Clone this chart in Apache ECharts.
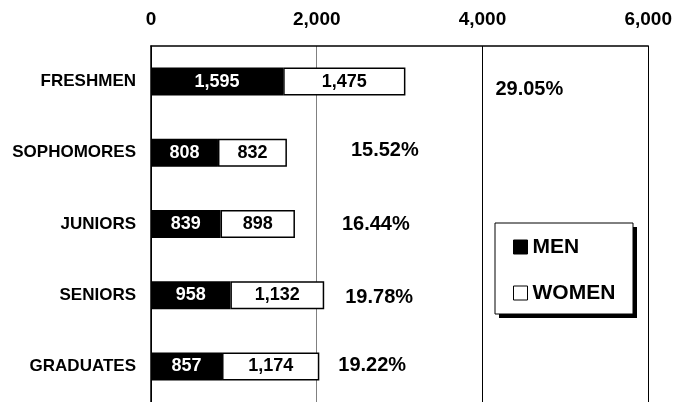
<!DOCTYPE html>
<html>
<head>
<meta charset="utf-8">
<script src="https://cdn.jsdelivr.net/npm/echarts@6/dist/echarts.min.js"></script>
<style>
html,body{margin:0;padding:0;background:#fff;}
#chart{width:675px;height:402px;}
</style>
</head>
<body>
<div id="chart"></div>
<script>
const categories = ['FRESHMEN', 'SOPHOMORES', 'JUNIORS', 'SENIORS', 'GRADUATES'];
const men = [1595, 808, 839, 958, 857];
const women = [1475, 832, 898, 1132, 1174];
const shareLabels = ['29.05%', '15.52%', '16.44%', '19.78%', '19.22%'];
const xTicks = [0, 2000, 4000, 6000];

// label placement tweaks (styling only)
const shareOffsets = [[90, 8], [64, -2], [47, 0], [21, 2], [19, -1]];

const FONT = '"Liberation Sans", Arial, sans-serif';
const chart = echarts.init(document.getElementById('chart'));

const fmt = v => v.toLocaleString('en-US');

chart.setOption({
  animation: false,
  backgroundColor: '#fff',
  grid: { left: 151, right: 23, top: 46, height: 357.5, containLabel: false },
  xAxis: {
    type: 'value',
    position: 'top',
    min: xTicks[0],
    max: xTicks[xTicks.length - 1],
    interval: xTicks[1] - xTicks[0],
    axisLine: { show: true, lineStyle: { color: '#000', width: 1.5 } },
    axisTick: { show: false },
    axisLabel: {
      margin: 17,
      formatter: v => fmt(v),
      fontFamily: FONT, fontWeight: 'bold', fontSize: 19, color: '#000'
    },
    splitLine: { show: true, lineStyle: { color: ['#000', '#808080', '#000', '#000'], width: 1 } }
  },
  yAxis: {
    type: 'category',
    inverse: true,
    data: categories,
    axisLine: { show: true, lineStyle: { color: '#000', width: 1.5 } },
    axisTick: { show: false },
    axisLabel: {
      margin: 15,
      fontFamily: FONT, fontWeight: 'bold', fontSize: 17, color: '#000'
    }
  },
  graphic: [
    { type: 'rect', z: 5, shape: { x: 499, y: 227, width: 138, height: 91 }, style: { fill: '#000' } },
    { type: 'rect', z: 6, shape: { x: 495, y: 223, width: 138, height: 91 }, style: { fill: '#fff', stroke: '#000', lineWidth: 1 } }
  ],
  legend: {
    left: 495, top: 223,
    z: 10,
    orient: 'vertical',
    padding: [12, 16, 9, 18],
    itemWidth: 14, itemHeight: 14, itemGap: 22,
    textStyle: { fontFamily: FONT, fontWeight: 'bold', fontSize: 21, lineHeight: 24, color: '#000' },
    data: [
      { name: 'MEN', icon: 'rect', itemStyle: { color: '#000', borderColor: '#000', borderWidth: 1 } },
      { name: 'WOMEN', icon: 'rect', itemStyle: { color: '#fff', borderColor: '#000', borderWidth: 1 } }
    ]
  },
  series: [
    {
      name: 'MEN', type: 'bar', stack: 'total', barWidth: 28,
      data: men,
      itemStyle: { color: '#000', borderColor: '#000', borderWidth: 1.5 },
      label: {
        show: true, position: 'inside', formatter: p => fmt(p.value),
        fontFamily: FONT, fontWeight: 'bold', fontSize: 18, color: '#fff'
      }
    },
    {
      name: 'WOMEN', type: 'bar', stack: 'total', barWidth: 28,
      data: women,
      itemStyle: { color: '#fff', borderColor: '#000', borderWidth: 1.5 },
      label: {
        show: true, position: 'inside', formatter: p => fmt(p.value),
        fontFamily: FONT, fontWeight: 'bold', fontSize: 18, color: '#000'
      }
    },
    {
      name: 'share', type: 'scatter', symbolSize: 0,
      itemStyle: { opacity: 1 },
      data: categories.map((c, i) => ({
        value: [men[i] + women[i], c],
        label: { offset: shareOffsets[i] }
      })),
      label: {
        show: true, position: 'right', distance: 0,
        formatter: p => shareLabels[p.dataIndex],
        fontFamily: FONT, fontWeight: 'bold', fontSize: 20, color: '#000'
      },
      silent: true
    }
  ]
});
</script>
</body>
</html>
